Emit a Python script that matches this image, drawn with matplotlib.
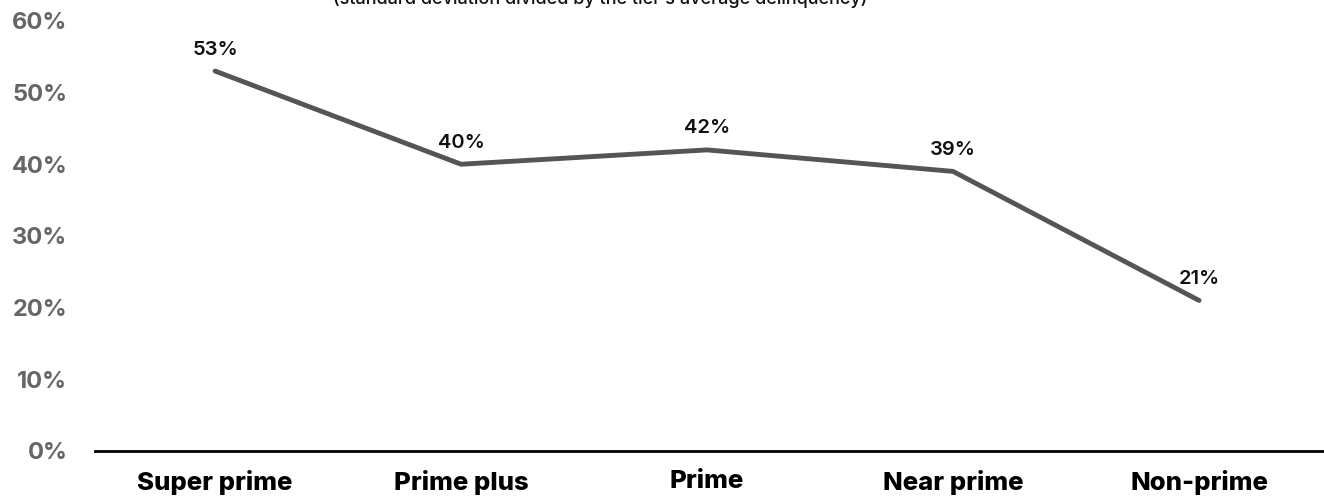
import matplotlib
matplotlib.use("Agg")
import matplotlib.pyplot as plt
from matplotlib.ticker import FuncFormatter

FONT = ["Inter", "DejaVu Sans"]
plt.rcParams["font.family"] = FONT

LINE_COLOR = "#555555"
TICK_COLOR = "#666666"

tiers  = ["Super prime", "Prime plus", "Prime", "Near prime", "Non-prime"]
values = [0.53, 0.40, 0.42, 0.39, 0.21]
yticks = [0.0, 0.1, 0.2, 0.3, 0.4, 0.5, 0.6]
subtitle = "(standard deviation divided by the tier\u2019s average delinquency)"

fig = plt.figure(figsize=(13.24, 4.99), dpi=100)
ax = fig.add_axes([0.0718, 0.0962, 0.9282, 0.862])

x = list(range(len(tiers)))
ax.plot(x, values, color=LINE_COLOR, lw=3.5, solid_capstyle="round", zorder=3)

for xi, v in zip(x, values):
    ax.annotate(f"{v*100:.0f}%", (xi, v), xytext=(0, 9), textcoords="offset points",
                ha="center", va="bottom", fontsize=14.5, fontweight="semibold", color="#111111")

ax.set_xlim(-0.488, 4.508)
ax.set_ylim(0, 0.6)
ax.set_yticks(yticks)
ax.yaxis.set_major_formatter(FuncFormatter(lambda v, p: f"{v*100:.0f}%"))
ax.set_xticks(x)
ax.set_xticklabels(tiers, fontsize=18.5, fontweight="heavy", color="black")

for lab in ax.get_yticklabels():
    lab.set_fontsize(17)
    lab.set_fontweight("bold")
    lab.set_color(TICK_COLOR)

ax.tick_params(axis="y", length=0, pad=20)
ax.tick_params(axis="x", length=0, pad=14)
for s in ["top", "right", "left"]:
    ax.spines[s].set_visible(False)
ax.spines["bottom"].set_linewidth(2)
ax.spines["bottom"].set_color("black")

fig.text(0.453, 1 - 4/499, subtitle, ha="center", va="baseline",
         fontsize=13, fontweight="medium", color="#111111")

plt.savefig("out.png", dpi=100, facecolor="white")
